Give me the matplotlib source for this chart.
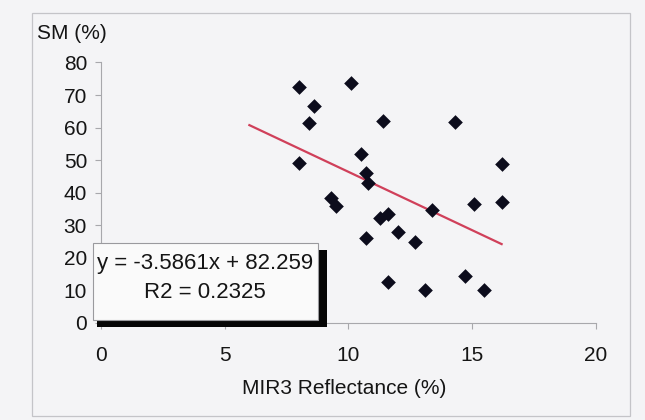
import numpy as np
import matplotlib
matplotlib.use('Agg')
import matplotlib.pyplot as plt
from matplotlib.patches import Rectangle

# data
mir3 = [8.0, 10.1, 8.6, 8.4, 11.4, 14.3, 8.0, 10.5, 10.7, 10.8, 9.3, 9.5,
        16.2, 16.2, 15.1, 13.4, 11.3, 11.6, 12.0, 10.7, 12.7, 11.6, 13.1,
        14.7, 15.5]
sm = [72.6, 73.8, 66.6, 61.5, 62.1, 61.6, 49.2, 51.8, 45.9, 43.0, 38.2, 35.8,
      48.8, 37.2, 36.5, 34.6, 32.1, 33.4, 27.8, 25.9, 24.7, 12.6, 10.0,
      14.3, 10.0]

slope = -3.5861
intercept = 82.259
r2 = 0.2325
backward_forecast = 2  # excel trendline extended back by 2 units

x_ticks = [0, 5, 10, 15, 20]
y_ticks = [0, 10, 20, 30, 40, 50, 60, 70, 80]

plt.rcParams['font.family'] = ['Liberation Sans', 'DejaVu Sans']

paper = '#f4f4f6'
ink = '#151515'
fig = plt.figure(figsize=(6.45, 4.2), dpi=100, facecolor=paper)

# outer chart frame
fig.patches.append(Rectangle((0.0496, 0.0095), 0.927, 0.9595, transform=fig.transFigure,
                             fill=False, edgecolor='#c4c4c8', linewidth=0.9))

ax = fig.add_axes([0.1566, 0.2317, 0.7668, 0.6195])
ax.set_facecolor('none')
ax.set_xlim(0, 20)
ax.set_ylim(0, 80)

for side in ['top', 'right']:
    ax.spines[side].set_visible(False)
for side in ['left', 'bottom']:
    ax.spines[side].set_color('#a8a8ac')
    ax.spines[side].set_linewidth(0.8)

ax.set_xticks(x_ticks)
ax.set_yticks(y_ticks)
ax.tick_params(axis='x', direction='out', length=4.5, width=0.8, color='#a8a8ac',
               pad=12, labelsize=15, labelcolor=ink)
ax.tick_params(axis='y', direction='out', length=4, width=0.8, color='#a8a8ac',
               pad=6, labelsize=15, labelcolor=ink)

# points
ax.scatter(mir3, sm, marker='D', s=56, color='#0c0c1c', zorder=3, linewidths=0)

# linear trendline
tx = np.array([min(mir3) - backward_forecast, max(mir3)])
ax.plot(tx, slope * tx + intercept, color='#d0405a', linewidth=1.6, zorder=2)

fig.text(0.057, 0.921, 'SM (%)', fontsize=15, ha='left', va='center', color=ink)
fig.text(0.533, 0.076, 'MIR3 Reflectance (%)', fontsize=15, ha='center', va='center',
         color=ink)

# equation box with excel style drop shadow
fig.patches.append(Rectangle((0.1504, 0.2214), 0.3566, 0.1836, transform=fig.transFigure,
                             facecolor='#050505', edgecolor='none', zorder=5))
fig.patches.append(Rectangle((0.1437, 0.238), 0.3493, 0.1834, transform=fig.transFigure,
                             facecolor='#fafafa', edgecolor='#9a9a9e', linewidth=0.8,
                             zorder=6))
fig.text(0.318, 0.3738, 'y = %.4fx + %.3f' % (slope, intercept), fontsize=16,
         ha='center', va='center', color=ink, zorder=7)
fig.text(0.318, 0.3024, 'R2 = %.4f' % r2, fontsize=16, ha='center', va='center',
         color=ink, zorder=7)

fig.savefig('out.png', dpi=100, facecolor=paper)
